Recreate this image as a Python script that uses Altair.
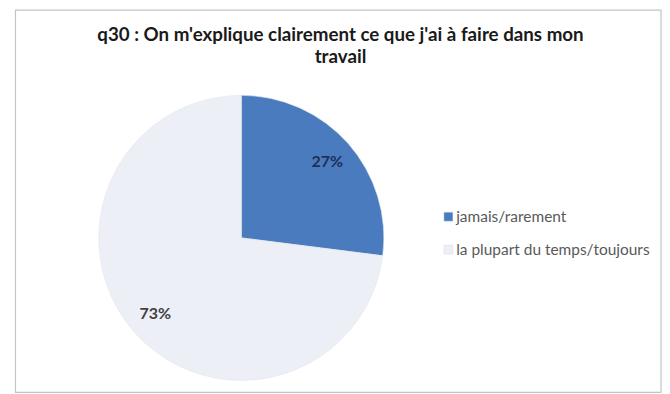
import altair as alt
import pandas as pd

categories = ["jamais/rarement", "la plupart du temps/toujours"]
values = [27, 73]
labels = ["27%", "73%"]
order_idx = [0, 1]
colors = ["#4a7bbf", "#eceff5"]
label_colors = ["#1f2f55", "#404040"]

title_lines = ["q30 : On m'explique clairement ce que j'ai à faire dans mon", "travail"]

df = pd.DataFrame({"cat": categories, "val": values, "lab": labels,
                   "ord": order_idx, "lc": label_colors})

W, H = 654, 386
CX, CY, R = 234, 229, 143

base = alt.Chart(df)

arc = base.mark_arc(radius=R, stroke="#e3e7ef", strokeWidth=0.6).encode(
    theta=alt.Theta("val:Q", stack=True),
    order=alt.Order("ord:Q"),
    color=alt.Color("cat:N", sort=categories,
                    scale=alt.Scale(domain=categories, range=colors),
                    legend=alt.Legend(title=None, orient="none", legendX=434, legendY=200,
                                      padding=0,
                                      symbolType="square", symbolSize=81,
                                      symbolStrokeColor="#d5dbe6", symbolStrokeWidth=0.5,
                                      labelFont="Lato", labelFontSize=15.5,
                                      labelColor="#595959", rowPadding=16,
                                      labelOffset=0, labelLimit=400)),
    x=alt.value(CX),
    y=alt.value(CY),
)

text = base.mark_text(radius=115, font="Lato", fontSize=16, fontWeight="bold").encode(
    theta=alt.Theta("val:Q", stack=True),
    order=alt.Order("ord:Q"),
    text="lab:N",
    color=alt.Color("lc:N", scale=None),
    x=alt.value(CX),
    y=alt.value(CY),
)

tdf = pd.DataFrame({"t": title_lines, "i": [0, 1]})
title = alt.Chart(tdf).mark_text(font="Lato", fontSize=18.8, fontWeight="bold",
                                  color="#1a1a1a", baseline="middle").encode(
    text="t:N",
    x=alt.value(333.5),
    y=alt.Y("i:Q", scale=alt.Scale(domain=[0, 1], range=[26, 48]), axis=None),
)

frame = alt.Chart(alt.Data(values=[{}])).mark_rect(
    fillOpacity=0, stroke="#c4c4c4", strokeWidth=1.2).encode(
    x=alt.value(7.5), x2=alt.value(655), y=alt.value(0.5), y2=alt.value(384),
)

chart = alt.layer(frame, arc, text, title).properties(
    width=W, height=H, padding=0
).configure_view(stroke=None).resolve_scale(color="independent", y="independent")

chart.save("out.html", embed_options={"renderer": "svg", "actions": False})
